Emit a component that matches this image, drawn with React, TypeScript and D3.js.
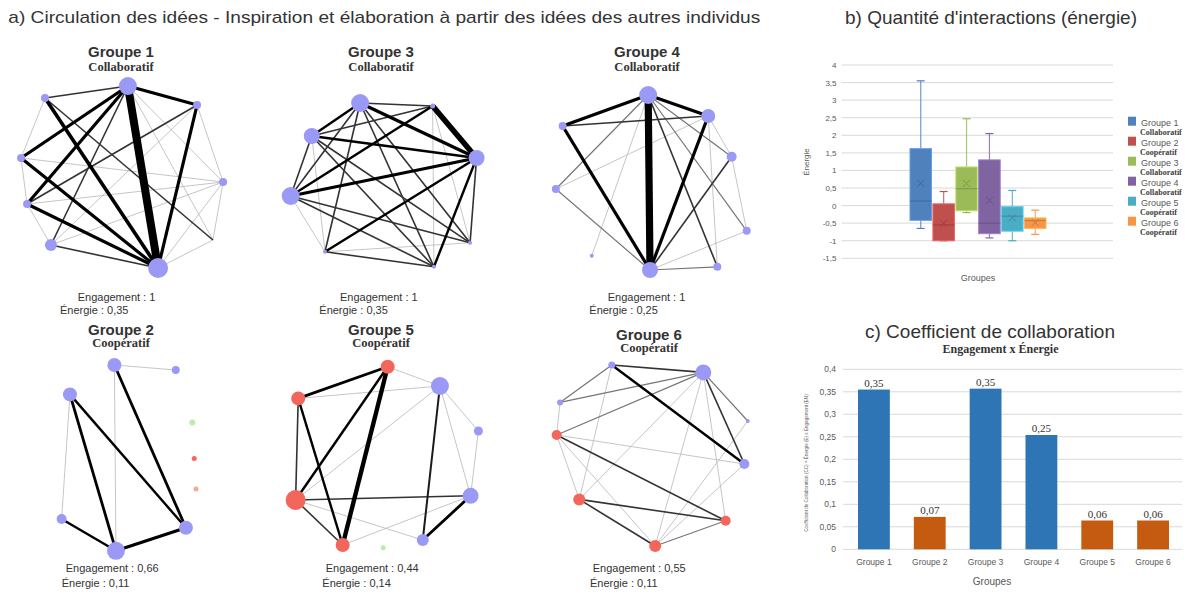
import React from "react";
import * as d3 from "d3";

// ---------- DATA ----------
// Network panels (a)
const netGroups = ["Groupe 1", "Groupe 3", "Groupe 4", "Groupe 2", "Groupe 5", "Groupe 6"];
const netTypes = ["Collaboratif", "Collaboratif", "Collaboratif", "Coopératif", "Coopératif", "Coopératif"];
const netEngagement = ["1", "1", "1", "0,66", "0,44", "0,55"];
const netEnergie = ["0,35", "0,35", "0,25", "0,11", "0,14", "0,11"];

// nodes: [layoutX (0-100), layoutY (0-100), size, colour class]
const g1Nodes: [number, number, number, string][] = [
  [49.2, 3, 9, "b"], [17.3, 9, 4, "b"], [75.8, 12.5, 4, "b"], [8.1, 39, 4, "b"], [85.8, 51, 4, "b"],
  [10.4, 62, 4, "b"], [19.6, 82.5, 6, "b"], [60.8, 94, 10, "b"], [81.9, 80, 0, "b"],
];
const g1Edges: [number, number, number][] = [
  [0, 7, 10], [0, 1, 2], [0, 2, 4], [0, 3, 4], [0, 5, 4], [0, 6, 2], [0, 4, 1], [0, 8, 1],
  [1, 7, 4.5], [1, 3, 1], [1, 8, 2], [2, 7, 4], [2, 5, 2], [2, 6, 1], [2, 4, 1],
  [3, 7, 4], [3, 4, 1], [3, 5, 1], [5, 7, 4], [5, 6, 1], [5, 4, 1], [6, 7, 2], [6, 4, 1],
  [7, 4, 1], [7, 8, 1], [4, 8, 1],
];
const g3Nodes: [number, number, number, string][] = [
  [38.5, 11.5, 9, "b"], [19.9, 28, 8, "b"], [11.8, 58, 9, "b"], [66.4, 13, 2.5, "b"],
  [83.3, 39, 8, "b"], [80.8, 81.4, 2, "b"], [66.9, 93.4, 2, "b"], [25, 85.9, 2, "b"],
];
const g3Edges: [number, number, number][] = [
  [0, 1, 3], [0, 2, 2], [0, 3, 2], [0, 4, 4], [0, 5, 2], [0, 6, 2], [0, 7, 2],
  [1, 2, 2], [1, 3, 2], [1, 4, 3], [1, 5, 2], [1, 6, 2], [1, 7, 1],
  [2, 3, 3], [2, 4, 4], [2, 5, 2], [2, 6, 2], [2, 7, 1],
  [3, 4, 7], [3, 6, 1], [3, 5, 1], [4, 7, 3], [4, 6, 3], [4, 5, 2], [7, 6, 2], [7, 5, 1],
];
const g4Nodes: [number, number, number, string][] = [
  [49.3, 7.5, 9, "b"], [72.4, 18, 7, "b"], [16.4, 23, 4, "b"], [81.4, 38.4, 5, "b"], [13.8, 54.5, 4, "b"],
  [87.2, 75.4, 4, "b"], [27.6, 87.9, 2, "b"], [50, 95, 8, "b"], [75.9, 93.4, 4, "b"],
];
const g4Edges: [number, number, number][] = [
  [0, 7, 9], [0, 2, 4], [0, 1, 4], [2, 7, 4], [1, 7, 4], [2, 1, 2], [0, 4, 1.5], [0, 6, 1],
  [0, 3, 1.5], [0, 5, 1.5], [0, 8, 2], [1, 4, 1], [1, 3, 1], [1, 8, 1], [3, 7, 2], [3, 5, 1],
  [4, 7, 1.5], [5, 7, 1], [8, 7, 1.5],
];
const g2Nodes: [number, number, number, string][] = [
  [44, 5, 7, "b"], [67.6, 7.5, 4, "b"], [26.9, 19.7, 7, "b"], [74, 33.7, 3, "g"], [74.7, 51.7, 2.5, "r"],
  [75.4, 67, 2.5, "o"], [23.7, 82, 5, "b"], [44.6, 97.9, 9, "b"], [71.5, 86.4, 7, "b"],
];
const g2Edges: [number, number, number][] = [
  [0, 1, 1], [0, 7, 1], [0, 8, 3.5], [2, 6, 1], [2, 7, 3.5], [2, 8, 3], [6, 7, 3], [7, 8, 4],
];
const g5Nodes: [number, number, number, string][] = [
  [49.1, 5.9, 7, "r"], [14.7, 21.7, 7, "r"], [69.2, 15.5, 9, "b"], [84, 38, 4.5, "b"], [13.7, 72.5, 10, "r"],
  [81, 70.4, 8, "b"], [31.8, 95, 7, "r"], [47.4, 96.4, 2.5, "g"], [62.6, 92.5, 6, "b"],
];
const g5Edges: [number, number, number][] = [
  [0, 1, 3.5], [0, 2, 1], [0, 4, 3], [0, 6, 5.5], [1, 2, 1], [1, 4, 2], [1, 6, 3], [4, 2, 1],
  [4, 5, 2], [4, 6, 2], [4, 8, 1], [6, 5, 1], [2, 8, 2.5], [2, 5, 1], [2, 3, 1], [3, 5, 1], [5, 8, 3.5],
];
const g6Nodes: [number, number, number, string][] = [
  [35.3, 5, 3.5, "b"], [70.5, 8.7, 8, "b"], [15.4, 23.7, 3, "b"], [87.6, 33, 2, "b"], [14.1, 40, 5, "r"],
  [86.3, 54.5, 5, "b"], [22.8, 72.2, 6, "r"], [79.1, 82.9, 5, "r"], [52, 95.5, 6, "r"],
];
const g6Edges: [number, number, number][] = [
  [0, 1, 2], [0, 5, 3], [0, 2, 1.5], [0, 6, 1], [1, 2, 1.5], [1, 4, 1.5], [1, 5, 2], [1, 3, 1.5],
  [1, 6, 1], [1, 8, 1], [1, 7, 1], [2, 4, 1], [4, 5, 1], [4, 6, 1], [4, 7, 2], [4, 8, 1],
  [3, 8, 1], [5, 8, 1], [6, 7, 2], [6, 8, 2], [8, 7, 1.5],
];
const netNodes = [g1Nodes, g3Nodes, g4Nodes, g2Nodes, g5Nodes, g6Nodes];
const netEdges = [g1Edges, g3Edges, g4Edges, g2Edges, g5Edges, g6Edges];

// Box plot (b)
const boxGroups = ["Groupe 1", "Groupe 2", "Groupe 3", "Groupe 4", "Groupe 5", "Groupe 6"];
const boxTypes = ["Collaboratif", "Coopératif", "Collaboratif", "Collaboratif", "Coopératif", "Coopératif"];
const boxMin = [-0.65, -1.0, -0.2, -0.92, -1.0, -0.82];
const boxQ1 = [-0.42, -1.0, -0.15, -0.8, -0.73, -0.65];
const boxMedian = [0.13, -0.55, 0.48, -0.5, -0.3, -0.43];
const boxQ3 = [1.62, 0.05, 1.1, 1.3, -0.03, -0.35];
const boxMax = [3.55, 0.4, 2.47, 2.05, 0.43, -0.13];
const boxMean = [0.63, -0.5, 0.63, 0.15, -0.35, -0.48];
const boxTicks = [-1.5, -1, -0.5, 0, 0.5, 1, 1.5, 2, 2.5, 3, 3.5, 4];

// Bar chart (c)
const barGroups = ["Groupe 1", "Groupe 2", "Groupe 3", "Groupe 4", "Groupe 5", "Groupe 6"];
const barValues = [0.355, 0.072, 0.357, 0.254, 0.064, 0.064];
const barLabels = ["0,35", "0,07", "0,35", "0,25", "0,06", "0,06"];
const barKinds = ["Collaboratif", "Coopératif", "Collaboratif", "Collaboratif", "Coopératif", "Coopératif"];
const barTicks = [0, 0.05, 0.1, 0.15, 0.2, 0.25, 0.3, 0.35, 0.4];

// ---------- STYLE ----------
const nodeColors: Record<string, string> = { b: "#9a9af6", r: "#f2665c", g: "#b8eeaa", o: "#f6a98d" };
const boxColors = ["#4f81bd", "#c0504d", "#9bbb59", "#8064a2", "#4bacc6", "#f79646"];
const SANS = "'Liberation Sans', Arial, sans-serif";
const SERIF = "'Liberation Serif', 'Times New Roman', serif";
const fmt = (v: number) => String(+v.toFixed(2)).replace(".", ",");

// panel layout
const panels = [
  { x: 0, y: 80, tx: 121, t1: 57, t2: 71, ex: 77.7, e1: 301, nx: 60, e2: 314 },
  { x: 260, y: 80, tx: 381, t1: 57, t2: 71, ex: 340, e1: 301, nx: 319.3, e2: 314 },
  { x: 520, y: 80, tx: 647, t1: 57, t2: 71, ex: 607.7, e1: 301, nx: 589.3, e2: 314 },
  { x: 0, y: 355, tx: 121, t1: 335, t2: 347, ex: 65.7, e1: 572, nx: 61.7, e2: 587 },
  { x: 260, y: 355, tx: 381, t1: 335, t2: 347, ex: 325.7, e1: 572, nx: 322.3, e2: 587 },
  { x: 520, y: 355, tx: 649, t1: 340, t2: 352, ex: 592.7, e1: 572, nx: 590, e2: 587 },
];

const widthScale = d3.scaleLinear().domain([0, 10]).range([0, 8]);
const edgeColor = d3.scaleLinear<string>().domain([1, 2, 3]).range(["#b8b8b8", "#333333", "#000000"]).clamp(true);

function Network({ i }: { i: number }) {
  const p = panels[i];
  const sx = d3.scaleLinear().domain([0, 100]).range([p.x, p.x + 260]);
  const sy = d3.scaleLinear().domain([0, 100]).range([p.y, p.y + 200]);
  const nodes = netNodes[i];
  const edges = [...netEdges[i]].sort((a, b) => a[2] - b[2]);
  return (
    <g>
      {edges.map(([s, t, w], k) => (
        <line key={k} x1={sx(nodes[s][0])} y1={sy(nodes[s][1])} x2={sx(nodes[t][0])} y2={sy(nodes[t][1])}
          stroke={edgeColor(w)} strokeWidth={widthScale(w)} strokeLinecap="butt" />
      ))}
      {nodes.map((n, k) => n[2] > 0 && (
        <circle key={k} cx={sx(n[0])} cy={sy(n[1])} r={n[2]} fill={nodeColors[n[3]]} />
      ))}
      <text x={p.tx} y={p.t1} textAnchor="middle" fontFamily={SANS} fontWeight="bold" fontSize={15} fill="#333">{netGroups[i]}</text>
      <text x={p.tx} y={p.t2} textAnchor="middle" fontFamily={SERIF} fontWeight="bold" fontSize={12.5} fill="#333">{netTypes[i]}</text>
      <text x={p.ex} y={p.e1} fontFamily={SANS} fontSize={11} fill="#333">{"Engagement : " + netEngagement[i]}</text>
      <text x={p.nx} y={p.e2} fontFamily={SANS} fontSize={11} fill="#333">{"Énergie : " + netEnergie[i]}</text>
    </g>
  );
}

function BoxPlot() {
  const y = d3.scaleLinear().domain([-1.5, 4]).range([258.3, 65]);
  const x = d3.scaleBand().domain(boxGroups).range([910, 1046]).paddingInner(0.06);
  const bw = x.bandwidth();
  return (
    <g>
      {boxTicks.map((t) => (
        <g key={t}>
          <line x1={841.7} x2={1113} y1={y(t)} y2={y(t)} stroke="#d9d9d9" strokeWidth={1} />
          <text x={836.5} y={y(t) + 3} textAnchor="end" fontFamily={SANS} fontSize={8} fill="#595959">{fmt(t)}</text>
        </g>
      ))}
      {boxGroups.map((g, i) => {
        const cx = x(g)! + bw / 2;
        const c = boxColors[i];
        const dark = d3.color(c)!.darker(0.6).toString();
        const m = 3.5;
        return (
          <g key={g}>
            <line x1={cx} x2={cx} y1={y(boxMax[i])} y2={y(boxQ3[i])} stroke={c} strokeWidth={1.2} opacity={0.8} />
            <line x1={cx} x2={cx} y1={y(boxQ1[i])} y2={y(boxMin[i])} stroke={c} strokeWidth={1.2} opacity={0.8} />
            <line x1={cx - 4} x2={cx + 4} y1={y(boxMax[i])} y2={y(boxMax[i])} stroke={c} strokeWidth={1.2} />
            <line x1={cx - 4} x2={cx + 4} y1={y(boxMin[i])} y2={y(boxMin[i])} stroke={c} strokeWidth={1.2} />
            <rect x={x(g)!} y={y(boxQ3[i])} width={bw} height={y(boxQ1[i]) - y(boxQ3[i])} fill={c}
              stroke={d3.color(c)!.brighter(0.6).toString()} strokeWidth={1} />
            <line x1={x(g)!} x2={x(g)! + bw} y1={y(boxMedian[i])} y2={y(boxMedian[i])} stroke={dark} strokeWidth={1} />
            <path d={`M${cx - m},${y(boxMean[i]) - m}L${cx + m},${y(boxMean[i]) + m}M${cx - m},${y(boxMean[i]) + m}L${cx + m},${y(boxMean[i]) - m}`}
              stroke={dark} strokeWidth={1} fill="none" />
          </g>
        );
      })}
      {boxGroups.map((g, i) => (
        <g key={"l" + g}>
          <rect x={1128} y={116.7 + 20 * i} width={8} height={9} fill={boxColors[i]} />
          <text x={1141} y={125.5 + 20 * i} fontFamily={SANS} fontSize={9} fill="#595959">{g}</text>
          <text x={1140} y={134.5 + 20 * i} fontFamily={SERIF} fontWeight="bold" fontSize={8} fill="#404040">{boxTypes[i]}</text>
        </g>
      ))}
      <text transform="translate(809,162) rotate(-90)" textAnchor="middle" fontFamily={SANS} fontSize={8} fill="#595959">Énergie</text>
      <text x={978} y={281} textAnchor="middle" fontFamily={SANS} fontSize={9} fill="#595959">Groupes</text>
    </g>
  );
}

function BarChart() {
  const y = d3.scaleLinear().domain([0, 0.4]).range([549.3, 369.3]);
  const x = d3.scaleBand().domain(barGroups).range([846, 1181]).paddingInner(0.43).paddingOuter(0.215);
  return (
    <g>
      {barTicks.map((t) => (
        <g key={t}>
          <line x1={843} x2={1182} y1={y(t)} y2={y(t)} stroke="#d9d9d9" strokeWidth={1} />
          <text x={836} y={y(t) + 3} textAnchor="end" fontFamily={SANS} fontSize={8.5} fill="#595959">{fmt(t)}</text>
        </g>
      ))}
      {barGroups.map((g, i) => (
        <g key={g}>
          <rect x={x(g)!} y={y(barValues[i])} width={x.bandwidth()} height={y(0) - y(barValues[i])}
            fill={barKinds[i] === "Collaboratif" ? "#2e75b6" : "#c55a11"} />
          <text x={x(g)! + x.bandwidth() / 2} y={y(barValues[i]) - 3} textAnchor="middle" fontFamily={SERIF} fontSize={11} fill="#333">{barLabels[i]}</text>
          <text x={x(g)! + x.bandwidth() / 2} y={565} textAnchor="middle" fontFamily={SANS} fontSize={8.5} fill="#595959">{g}</text>
        </g>
      ))}
      <text transform="translate(808,463) rotate(-90)" textAnchor="middle" fontFamily={SANS} fontSize={4.6} fill="#595959">
        Coefficient de Collaboration (CC) = Énergie (E) x Engagement (EN)
      </text>
      <text x={992} y={585} textAnchor="middle" fontFamily={SANS} fontSize={10} fill="#595959">Groupes</text>
    </g>
  );
}

export default function App() {
  return (
    <svg width={1186} height={592} viewBox="0 0 1186 592"
      style={{ position: "fixed", left: 0, top: 0, background: "#fff", display: "block" }}>
      <rect width={1186} height={592} fill="#fff" />
      <text x={8.3} y={23.3} fontFamily={SANS} fontSize={17} fill="#333" textLength={752} lengthAdjust="spacingAndGlyphs">
        a) Circulation des idées - Inspiration et élaboration à partir des idées des autres individus
      </text>
      <text x={845} y={24} fontFamily={SANS} fontSize={19} fill="#333" textLength={292} lengthAdjust="spacingAndGlyphs">
        b) Quantité d'interactions (énergie)
      </text>
      <text x={865} y={337.5} fontFamily={SANS} fontSize={18.5} fill="#333" textLength={250} lengthAdjust="spacingAndGlyphs">
        c) Coefficient de collaboration
      </text>
      <text x={1000.5} y={353} textAnchor="middle" fontFamily={SERIF} fontWeight="bold" fontSize={12} fill="#333">Engagement x Énergie</text>
      {panels.map((_, i) => <Network key={i} i={i} />)}
      <BoxPlot />
      <BarChart />
    </svg>
  );
}
